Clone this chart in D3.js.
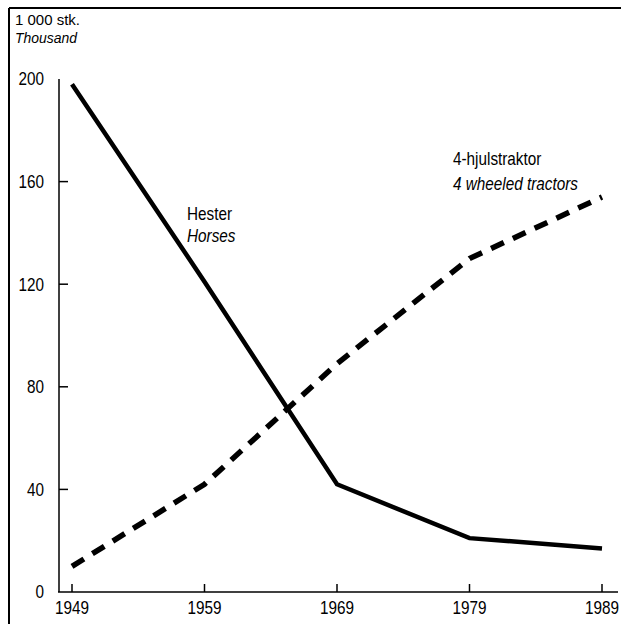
<!DOCTYPE html>
<html>
<head>
<meta charset="utf-8">
<script src="https://cdn.jsdelivr.net/npm/d3@7"></script>
<style>
  html, body { margin: 0; padding: 0; background: #fff; }
  svg { display: block; }
  text { font-family: "Liberation Sans", Arial, Helvetica, sans-serif; fill: #000; }
</style>
</head>
<body>
<svg id="chart" width="621" height="624"></svg>
<script>
const years = [1949, 1959, 1969, 1979, 1989];
const horses = [198, 121, 42, 21, 17];
const tractors = [10, 42, 89, 130, 154];
const yTicks = [0, 40, 80, 120, 160, 200];
const xTickLabels = ["1949", "1959", "1969", "1979", "1989"];

const svg = d3.select("#chart");

const x = d3.scaleLinear().domain([1949, 1989]).range([72, 602]);
const y = d3.scaleLinear().domain([0, 200]).range([592, 79]);

const SX = 0.85; // condensed (narrow) type
function label(g, tx, ty, str, opts = {}) {
  const t = g.append("text")
    .attr("transform", `translate(${tx},${ty}) scale(${opts.sx || SX},1)`)
    .attr("font-size", opts.size || 18)
    .attr("text-anchor", opts.anchor || "start")
    .text(str);
  if (opts.dy) t.attr("dy", opts.dy);
  if (opts.italic) t.attr("font-style", "italic");
  return t;
}

// frame (top and left)
svg.append("line").attr("x1", 9).attr("x2", 621).attr("y1", 8).attr("y2", 8)
  .attr("stroke", "#000").attr("stroke-width", 2);
svg.append("line").attr("x1", 9).attr("x2", 9).attr("y1", 8).attr("y2", 624)
  .attr("stroke", "#000").attr("stroke-width", 2);

// y axis
svg.append("line").attr("x1", 59).attr("x2", 59).attr("y1", y(200)).attr("y2", y(0))
  .attr("stroke", "#000").attr("stroke-width", 1.5);
svg.append("g").selectAll("line").data(yTicks.filter(d => d > 0 && d < 200)).join("line")
  .attr("x1", 59).attr("x2", 68).attr("y1", d => y(d)).attr("y2", d => y(d))
  .attr("stroke", "#000").attr("stroke-width", 1.5);
const yl = svg.append("g");
yTicks.forEach(d => label(yl, 44, y(d), String(d), { anchor: "end", dy: "0.36em" }));

// x axis
svg.append("line").attr("x1", 58).attr("x2", 618).attr("y1", y(0)).attr("y2", y(0))
  .attr("stroke", "#000").attr("stroke-width", 1.5);
svg.append("g").selectAll("line").data(years).join("line")
  .attr("x1", d => x(d)).attr("x2", d => x(d)).attr("y1", y(0)).attr("y2", y(0) - 8)
  .attr("stroke", "#000").attr("stroke-width", 1.5);
const xl = svg.append("g");
years.forEach((d, i) => label(xl, x(d), 614, xTickLabels[i], { anchor: "middle" }));

// unit labels
label(svg, 15, 25, "1 000 stk.", { size: 15, sx: 1 });
label(svg, 15, 43, "Thousand", { size: 15, sx: 0.93, italic: true });

const line = d3.line().x((d, i) => x(years[i])).y(d => y(d));

svg.append("path").datum(horses).attr("d", line)
  .attr("fill", "none").attr("stroke", "#000").attr("stroke-width", 4.5)
  .attr("stroke-linejoin", "miter");

svg.append("path").datum(tractors).attr("d", line)
  .attr("fill", "none").attr("stroke", "#000").attr("stroke-width", 5.5)
  .attr("stroke-dasharray", "14,10");

// series labels
label(svg, 187, 220, "Hester");
label(svg, 187, 242, "Horses", { italic: true });
label(svg, 453, 165, "4-hjulstraktor");
label(svg, 453, 190, "4 wheeled tractors", { italic: true });
</script>
</body>
</html>
